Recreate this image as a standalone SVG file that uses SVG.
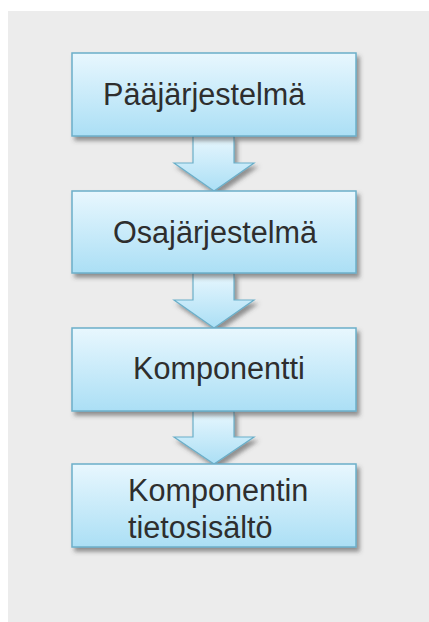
<svg xmlns="http://www.w3.org/2000/svg" width="429" height="622" viewBox="0 0 429 622">
<defs>
<linearGradient id="g" x1="0" y1="0" x2="0" y2="1">
<stop offset="0" stop-color="#e8f7fe"/>
<stop offset="1" stop-color="#abdff5"/>
</linearGradient>
<filter id="sh" x="-10%" y="-10%" width="130%" height="140%">
<feDropShadow dx="3" dy="4" stdDeviation="2" flood-color="#444" flood-opacity="0.55"/>
</filter>
<style>
.box{fill:url(#g);stroke:#6bafc9;stroke-width:1.5;filter:url(#sh)}
.arr{fill:url(#g);stroke:#6bafc9;stroke-width:1.2;filter:url(#sh)}
text{font-family:"Liberation Sans",Arial,sans-serif;font-size:30.6px;fill:#2e2e2e}
</style>
</defs>
<rect x="8" y="11" width="421" height="611" fill="#ececec"/>
<g id="connectors">
<path class="arr" d="M193,136 H234 V163 H254 L214,191 L174,163 H193 Z"/>
<path class="arr" d="M193,273 H234 V300 H254 L214,328 L174,300 H193 Z"/>
<path class="arr" d="M193,411 H234 V437 H254 L214,464 L174,437 H193 Z"/>
</g>
<g id="n1"><rect class="box" x="72" y="53" width="284" height="83"/><text x="103" y="105">Pääjärjestelmä</text></g>
<g id="n2"><rect class="box" x="72" y="191" width="284" height="82"/><text x="113" y="243">Osajärjestelmä</text></g>
<g id="n3"><rect class="box" x="72" y="328" width="284" height="83"/><text x="133" y="379">Komponentti</text></g>
<g id="n4"><rect class="box" x="72" y="464" width="284" height="83"/><text x="128" y="501">Komponentin</text><text x="128" y="538">tietosisältö</text></g>
</svg>
